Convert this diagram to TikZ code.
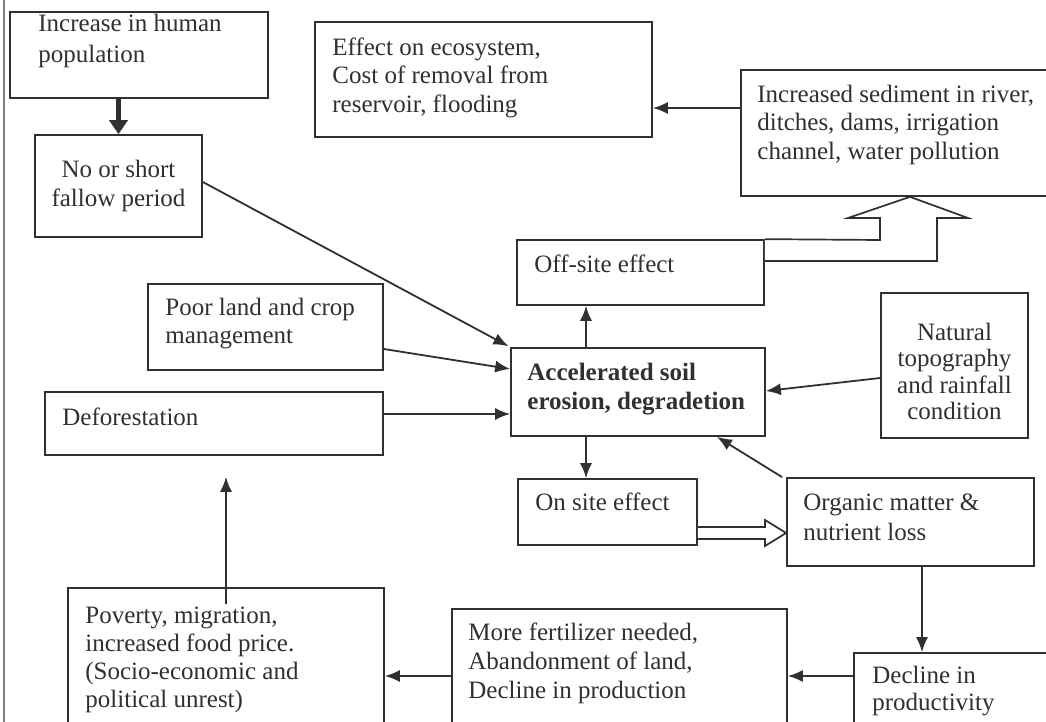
\documentclass[tikz,border=0pt]{standalone}
\usepackage{fontspec}
\setmainfont{Liberation Serif}
\usetikzlibrary{arrows.meta}
\definecolor{ink}{HTML}{303030}
\newcommand\myst{\rule{0pt}{9pt}}
\begin{document}
\begin{tikzpicture}[x=0.5pt,y=-0.5pt,
  box/.style={draw=ink, line width=0.85pt, inner sep=0},
  txt/.style={inner sep=0, anchor=north west, align=left, text=ink, font=\fontsize{12.5}{14.25}\selectfont},
  ctxt/.style={txt, anchor=north, align=center},
  arr/.style={draw=ink, line width=0.9pt, -{Latex[length=7.5pt,width=6pt]}},
  bigarr/.style={draw=ink, line width=2.4pt, -{Triangle[length=7pt,width=9pt]}},
  hollow/.style={draw=ink, line width=0.85pt, fill=white, line join=miter}]
\useasboundingbox (0,0) rectangle (1046,722);
\fill[white] (0,0) rectangle (1046,722);
% scan edge
\draw[gray, line width=0.6pt] (4,0) -- (4,722);

% boxes
\node[box, minimum width=129pt, minimum height=43pt] (inc) at (139,55) {};
\node[box, minimum width=83.5pt, minimum height=51pt] (fallow) at (118.5,186) {};
\node[box, minimum width=168.5pt, minimum height=57.5pt] (effect) at (483.5,79.5) {};
\node[box, minimum width=154.5pt, minimum height=63pt] (sed) at (895.5,133) {};
\node[box, minimum width=123.5pt, minimum height=32.5pt] (offsite) at (640.5,272.5) {};
\node[box, minimum width=117.5pt, minimum height=43pt] (poor) at (265.5,327) {};
\node[box, minimum width=169pt, minimum height=31.5pt] (defor) at (214,423.5) {};
\node[box, minimum width=127pt, minimum height=44pt] (accel) at (638,392) {};
\node[box, minimum width=73.5pt, minimum height=72.5pt] (natural) at (954.5,365.5) {};
\node[box, minimum width=89.5pt, minimum height=33pt] (onsite) at (607.5,512) {};
\node[box, minimum width=123.5pt, minimum height=44pt] (organic) at (910.5,522) {};
\node[box, minimum width=98pt, minimum height=38.5pt] (decline) at (952,691.5) {};
\node[box, minimum width=167.5pt, minimum height=60.5pt] (more) at (619.5,669.5) {};
\node[box, minimum width=158pt, minimum height=71pt] (poverty) at (226,659) {};

% texts
\node[txt, font=\fontsize{12.5}{15.5}\selectfont] (inc-t) at (38,13) {\myst Increase in human\\population};
\node[ctxt, font=\fontsize{12.5}{14.5}\selectfont] (fallow-t) at (118.5,159) {\myst No or short\\fallow period};
\node[txt] (effect-t) at (332,37) {\myst Effect on ecosystem,\\Cost of removal from\\reservoir, flooding};
\node[txt] (sed-t) at (757,84) {\myst Increased sediment in river,\\ditches, dams, irrigation\\channel, water pollution};
\node[txt] (offsite-t) at (534,254) {\myst Off-site effect};
\node[txt, font=\fontsize{12.5}{14}\selectfont] (poor-t) at (165,297) {\myst Poor land and crop\\management};
\node[txt] (defor-t) at (62,407) {\myst Deforestation};
\node[txt, font=\fontsize{12.5}{14.5}\selectfont\bfseries] (accel-t) at (527,362) {\myst Accelerated soil\\erosion, degradetion};
\node[ctxt, font=\fontsize{12.5}{13.2}\selectfont] (natural-t) at (954.5,322) {\myst Natural\\topography\\and rainfall\\condition};
\node[txt] (onsite-t) at (535,492) {\myst On site effect};
\node[txt, font=\fontsize{12.5}{15}\selectfont] (organic-t) at (803,492) {\myst Organic matter \&\\nutrient loss};
\node[txt, font=\fontsize{12.5}{13.5}\selectfont] (decline-t) at (872,665) {\myst Decline in\\productivity};
\node[txt, font=\fontsize{12.5}{14.5}\selectfont] (more-t) at (468,622) {\myst More fertilizer needed,\\Abandonment of land,\\Decline in production};
\node[txt, font=\fontsize{12.5}{14}\selectfont] (poverty-t) at (85,605) {\myst Poverty, migration,\\increased food price.\\(Socio-economic and\\political unrest)};

% connectors
\draw[bigarr] (inc.south -| fallow.north) -- (fallow.north);
\draw[arr] (sed.west |- 0,108) -- (effect.east |- 0,108);
\draw[arr, shorten >=1pt] (fallow.east |- 0,182) -- (accel.north west);
\draw[arr] (poor.east |- 0,349) -- (accel.west |- 0,369);
\draw[arr] (defor.east |- 0,414) -- (accel.west |- 0,414);
\draw[arr] (natural.west |- 0,378) -- (accel.east |- 0,391);
\draw[arr] ([xshift=-2pt]organic.north west) -- (accel.south -| 717,0);
\draw[arr] (accel.north -| 586,0) -- (offsite.south -| 586,0);
\draw[arr] (accel.south -| 586,0) -- (onsite.north -| 586,0);
\draw[arr] (organic.south -| 922,0) -- (decline.north -| 922,0);
\draw[arr] (decline.west |- 0,676) -- (more.east |- 0,676);
\draw[arr] (more.west |- 0,676) -- (poverty.east |- 0,676);
\draw[arr, shorten >=10.5pt] ([yshift=-8.5pt]poverty.north) -- (defor.south -| poverty.north);

% hollow arrow: off-site effect -> sediment
\draw[hollow] (offsite.east |- 0,261) -- (937,261) -- (937,218) -- (968,218)
  -- (sed.south -| 910,0) -- (848,218) -- (880,218) -- (880,240) -- (offsite.north east);
% hollow arrow: on site effect -> organic matter
\draw[hollow] (onsite.east |- 0,527) -- (765,527) -- (765,520) -- (organic.west |- 0,533)
  -- (765,546) -- (765,539) -- (onsite.east |- 0,539);
\end{tikzpicture}
\end{document}
